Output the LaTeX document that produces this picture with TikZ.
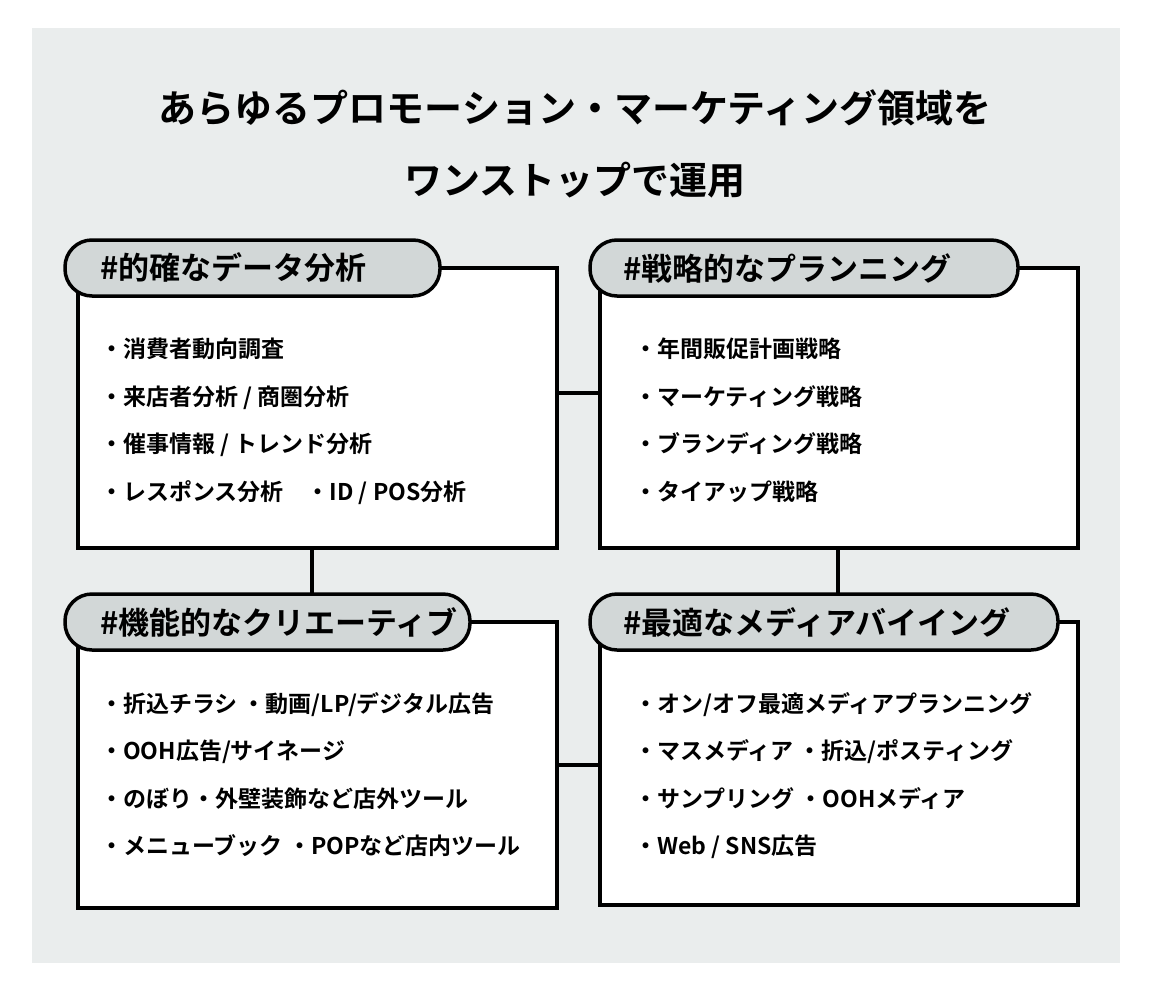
\documentclass[tikz,border=0pt]{standalone}
\usepackage{fontspec}
\setmainfont{Noto Sans CJK JP}[BoldFont={Noto Sans CJK JP Bold}]
\usetikzlibrary{positioning}
\definecolor{bggray}{HTML}{EAEDED}
\definecolor{pillgray}{HTML}{D2D7D7}
\tikzset{
  panel/.style={draw=black,line width=3.5pt,fill=white},
  pill/.style={draw=black,line width=3.5pt,fill=pillgray,rounded corners=27pt},
  link/.style={line width=3.5pt},
  items/.style={anchor=north west,align=left,inner sep=0pt,font=\fontsize{23}{47.5}\selectfont\bfseries},
  tag/.style={anchor=west,inner sep=0pt,font=\fontsize{31}{32}\selectfont\bfseries},
}
\begin{document}
\begin{tikzpicture}[x=1pt,y=-1pt]
\useasboundingbox (0,0) rectangle (1151,991);
\fill[bggray] (32,28) rectangle (1120,963);
% title
\node[font=\fontsize{38}{72}\selectfont\bfseries,align=center] (title) at (575,144)
  {あらゆるプロモーション・マーケティング領域を\\ワンストップで運用};
% connectors
\draw[link] (300,393) -- (850,393);
\draw[link] (300,765) -- (850,765);
\draw[link] (312,450) -- (312,700);
\draw[link] (838,450) -- (838,700);
% panels
\draw[panel] (78,268) rectangle (557,548);
\draw[panel] (600,268) rectangle (1078,548);
\draw[panel] (78,622) rectangle (557,908);
\draw[panel] (600,622) rectangle (1078,905);
% labels
\draw[pill] (65,240) rectangle (440,296);
\node[tag] (tagA) at (100,268) {\#的確なデータ分析};
\draw[pill] (590,240) rectangle (1018,296);
\node[tag] (tagB) at (623,268) {\#戦略的なプランニング};
\draw[pill] (65,594) rectangle (470,650);
\node[tag] (tagC) at (100,622) {\#機能的なクリエーティブ};
\draw[pill] (590,594) rectangle (1058,650);
\node[tag] (tagD) at (623,622) {\#最適なメディアバイイング};
% items
\node[items] (listA) at (100,338) {・消費者動向調査\\・来店者分析 / 商圏分析\\・催事情報 / トレンド分析\\・レスポンス分析\quad・ID / POS分析};
\node[items] (listB) at (634,338) {・年間販促計画戦略\\・マーケティング戦略\\・ブランディング戦略\\・タイアップ戦略};
\node[items] (listC) at (100,692) {・折込チラシ\ ・動画/LP/デジタル広告\\・OOH広告/サイネージ\\・のぼり・外壁装飾など店外ツール\\・メニューブック\ ・POPなど店内ツール};
\node[items] (listD) at (634,692) {・オン/オフ最適メディアプランニング\\・マスメディア\ ・折込/ポスティング\\・サンプリング\ ・OOHメディア\\・Web / SNS広告};
\end{tikzpicture}
\end{document}
